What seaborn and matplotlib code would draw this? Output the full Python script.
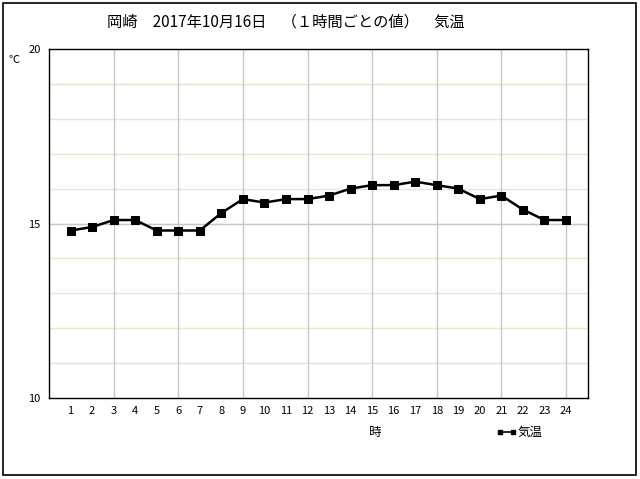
import pandas as pd
import seaborn as sns
import matplotlib.pyplot as plt
from matplotlib.patches import Rectangle

# 岡崎 2017-10-16 hourly temperature
hours = list(range(1, 25))
temps = [14.8, 14.9, 15.1, 15.1, 14.8, 14.8, 14.8, 15.3, 15.7, 15.6, 15.7, 15.7,
         15.8, 16.0, 16.1, 16.1, 16.2, 16.1, 16.0, 15.7, 15.8, 15.4, 15.1, 15.1]
y_ticks = [10, 15, 20]
title = "岡崎　2017年10月16日　（１時間ごとの値）　気温"

sns.set_theme(style="white")
plt.rcParams['font.family'] = ['Noto Sans CJK JP', 'DejaVu Sans']
plt.rcParams['text.color'] = 'black'
plt.rcParams['xtick.color'] = 'black'
plt.rcParams['ytick.color'] = 'black'

df = pd.DataFrame({"時": hours, "気温": temps})

fig = plt.figure(figsize=(6.4, 4.79), dpi=100)
ax = fig.add_axes([0.0766, 0.169, 0.8414, 0.7287])

# minor grid every degree, major lines
for v in range(11, 20):
    ax.axhline(v, color="#ebe5cf", lw=1, zorder=0)
ax.axhline(15, color="#c8c8c8", lw=1, zorder=0)
for h in range(3, 25, 3):
    ax.axvline(h, color="#c8c8c8", lw=1, zorder=0)

sns.lineplot(data=df, x="時", y="気温", ax=ax, color="black", lw=1.8,
             marker="s", markersize=6, markeredgecolor="black", label="気温", legend=False)

ax.set_xlim(0, 25)
ax.set_ylim(10, 20)
ax.set_xticks(hours)
ax.set_xticklabels([str(h) for h in hours], fontsize=8)
ax.set_yticks(y_ticks)
ax.set_yticklabels([str(v) for v in y_ticks], fontsize=8)
ax.tick_params(axis="both", length=0, pad=6)
ax.set_xlabel("")
ax.set_ylabel("")
for s in ax.spines.values():
    s.set_color("black")
    s.set_linewidth(1)

fig.text(0.447, 0.955, title, ha="center", va="center", fontsize=11)
fig.text(0.022, 0.875, "℃", ha="center", va="center", fontsize=8)
fig.text(0.586, 0.098, "時", ha="center", va="center", fontsize=9)

# legend entry
ax.plot([0.781, 0.801], [0.098, 0.098], transform=fig.transFigure, color="black",
        lw=1.2, marker="s", markersize=2.5, clip_on=False)
fig.text(0.808, 0.098, "気温", ha="left", va="center", fontsize=9)

fig.patches.append(Rectangle((0.004, 0.008), 0.99, 0.985, transform=fig.transFigure,
                             fill=False, edgecolor="black", lw=1.2))

fig.savefig("out.png", dpi=100)
